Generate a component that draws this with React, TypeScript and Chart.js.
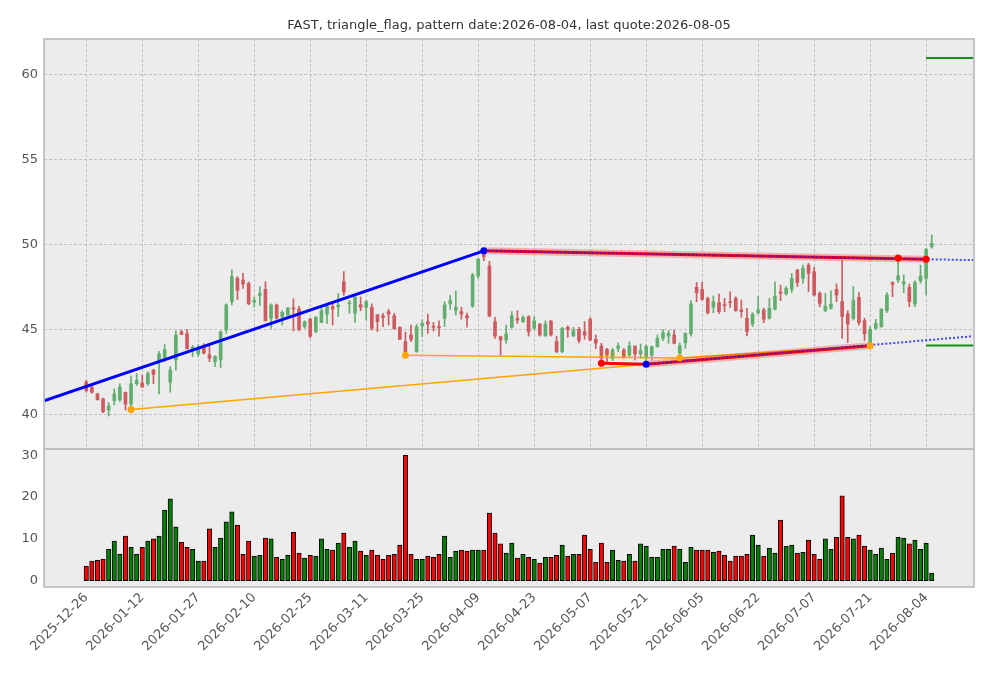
import { Chart, registerables } from "chart.js";
import { useEffect, useRef } from "react";

Chart.register(...registerables);

const chartTitle = "FAST, triangle_flag, pattern date:2026-08-04, last quote:2026-08-05";

// x axis: trading-day index, labelled every 10 sessions
const tickIdx = [0, 10, 20, 30, 40, 50, 60, 70, 80, 90, 100, 110, 120, 130, 140, 150];
const tickDates = [
  "2025-12-26", "2026-01-12", "2026-01-27", "2026-02-10", "2026-02-25", "2026-03-11",
  "2026-03-25", "2026-04-09", "2026-04-23", "2026-05-07", "2026-05-21", "2026-06-05",
  "2026-06-22", "2026-07-07", "2026-07-21", "2026-08-04",
];
const priceTicks = [40, 45, 50, 55, 60];
const volTicks = [0, 10, 20, 30];

const opens = [
  41.9, 41.6, 41.2, 40.9, 40.25, 40.8, 40.85, 41.3, 40.6, 41.8, 41.85, 41.8, 42.6, 43.1, 43.3, 41.9, 43.2, 44.85, 44.75, 43.8, 43.55, 44.05, 43.5, 43.1, 43.2,
  44.96, 46.63, 48.0, 47.9, 47.7, 46.6, 47.0, 47.35, 45.65, 46.43, 45.75, 45.85, 46.25, 46.2, 45.15, 45.6, 44.87, 45.4, 45.9, 46.33, 46.33, 47.8, 46.5, 45.95, 46.45,
  46.3, 46.3, 45.86, 45.8, 46.04, 45.8, 45.12, 44.27, 44.67, 43.69, 45.2, 45.45, 45.16, 45.16, 45.65, 46.5, 46.1, 46.04, 45.8, 46.37, 48.14, 49.47, 48.73, 45.45, 44.57,
  44.37, 45.12, 45.65, 45.45, 45.75, 45.06, 45.31, 44.6, 45.49, 44.27, 43.69, 45.12, 44.6, 45.0, 44.86, 45.59, 44.41, 44.02, 43.82, 43.29, 43.88, 43.78, 43.49, 44.02, 43.55,
  43.3, 43.49, 43.98, 44.47, 44.61, 44.67, 43.59, 44.2, 44.73, 47.47, 47.35, 46.82, 46.3, 46.57, 46.43, 46.61, 46.82, 46.14, 45.65, 45.31, 45.98, 46.14, 45.65, 46.18, 47.2,
  47.08, 47.35, 48.49, 48.0, 48.78, 48.39, 47.12, 46.1, 46.24, 47.35, 46.63, 45.9, 45.65, 46.88, 45.51, 44.08, 45.06, 45.16, 46.1, 47.75, 47.9, 47.67, 47.47, 46.49, 47.86,
  48.0, 49.86,
];
const highs = [
  42.0, 41.65, 41.25, 40.95, 40.7, 41.5, 41.8, 41.3, 42.25, 42.4, 42.3, 42.5, 42.65, 43.7, 44.1, 42.8, 44.9, 44.95, 45.0, 44.05, 44.1, 44.15, 44.1, 43.45, 44.9,
  46.5, 48.5, 48.1, 48.3, 47.8, 46.9, 47.5, 47.8, 46.5, 46.49, 46.1, 46.3, 46.8, 46.35, 45.5, 45.65, 45.75, 46.3, 46.5, 46.6, 47.1, 48.4, 46.7, 47.0, 46.9,
  46.7, 46.5, 45.86, 45.94, 46.18, 45.94, 45.16, 44.84, 45.25, 45.3, 45.55, 45.9, 45.4, 45.5, 46.63, 47.0, 47.25, 46.3, 45.95, 48.3, 49.18, 49.67, 49.0, 45.7, 44.6,
  45.25, 46.04, 46.1, 45.8, 45.8, 45.75, 45.35, 45.5, 45.51, 44.6, 45.12, 45.2, 45.12, 45.12, 45.45, 45.7, 44.67, 44.18, 43.88, 43.88, 44.2, 43.88, 44.27, 44.02, 44.14,
  44.08, 44.02, 44.67, 45.0, 44.92, 44.96, 44.2, 44.8, 46.69, 47.76, 47.76, 46.9, 46.96, 47.08, 46.82, 47.2, 46.92, 46.73, 46.24, 45.98, 46.92, 46.24, 46.82, 47.8, 47.6,
  47.51, 48.29, 48.53, 48.78, 48.88, 48.65, 47.2, 47.12, 47.27, 47.67, 49.04, 46.1, 47.51, 47.16, 45.65, 45.16, 45.59, 46.22, 47.16, 47.8, 49.2, 48.2, 47.67, 47.86, 48.78,
  49.77, 50.55,
];
const lows = [
  41.3, 41.25, 40.85, 40.1, 39.9, 40.55, 40.75, 40.25, 40.29, 41.7, 41.6, 41.7, 41.8, 41.2, 43.1, 41.3, 42.6, 44.7, 43.85, 43.4, 43.4, 43.55, 43.1, 42.8, 42.75,
  44.76, 46.43, 46.75, 47.4, 46.45, 46.3, 46.4, 45.5, 45.06, 45.6, 45.25, 45.8, 44.9, 44.9, 45.06, 44.5, 44.8, 45.4, 45.35, 45.25, 45.75, 47.0, 45.95, 45.4, 46.1,
  45.55, 44.96, 44.86, 45.16, 45.25, 45.0, 44.41, 43.47, 44.27, 43.65, 44.57, 44.76, 44.9, 44.6, 45.16, 46.18, 45.84, 45.6, 45.12, 46.3, 48.0, 49.04, 45.74, 44.47, 43.49,
  44.18, 45.06, 45.35, 45.4, 44.6, 45.0, 44.6, 44.6, 44.6, 43.63, 43.63, 44.53, 44.6, 44.2, 44.41, 44.33, 43.88, 43.0, 43.1, 43.16, 43.69, 43.29, 43.39, 43.2, 43.29,
  42.94, 43.2, 43.94, 44.33, 44.18, 44.14, 43.31, 43.88, 44.6, 46.63, 46.7, 45.9, 45.98, 45.94, 46.04, 46.29, 46.06, 45.7, 44.61, 45.16, 45.9, 45.39, 45.6, 46.14, 46.69,
  47.02, 47.16, 47.51, 47.71, 47.22, 46.96, 46.33, 46.04, 46.18, 46.63, 44.47, 44.22, 45.55, 45.25, 44.33, 44.04, 45.0, 45.12, 45.98, 46.92, 47.75, 47.16, 46.33, 46.33, 47.71,
  47.02, 49.77,
];
const closes = [
  41.4, 41.3, 40.85, 40.15, 40.5, 41.2, 41.6, 40.6, 41.8, 42.0, 41.6, 42.4, 42.35, 43.55, 43.8, 42.6, 44.65, 44.7, 43.85, 43.95, 43.9, 43.6, 43.3, 43.4, 44.85,
  46.43, 48.1, 47.3, 47.67, 46.5, 46.7, 47.1, 45.5, 46.43, 45.65, 46.0, 46.25, 46.2, 45.0, 45.45, 44.6, 45.7, 46.1, 46.35, 46.2, 46.43, 47.2, 46.55, 46.9, 46.3,
  46.63, 45.06, 45.45, 45.7, 45.9, 45.04, 44.41, 43.69, 44.41, 45.16, 45.35, 45.31, 45.12, 45.1, 46.43, 46.69, 46.3, 45.9, 45.67, 48.2, 49.12, 49.27, 45.78, 44.6, 44.37,
  44.73, 45.8, 45.55, 45.7, 44.86, 45.5, 44.67, 45.31, 44.67, 43.69, 45.06, 45.0, 44.92, 44.33, 44.67, 44.37, 44.18, 43.29, 43.49, 43.78, 44.02, 43.35, 44.02, 43.55, 43.75,
  44.0, 43.98, 44.47, 44.8, 44.76, 44.18, 44.02, 44.76, 46.49, 47.16, 46.76, 45.98, 46.63, 46.04, 46.39, 46.57, 46.1, 46.04, 44.86, 45.9, 46.14, 45.59, 46.24, 46.96, 47.12,
  47.41, 48.0, 47.75, 48.59, 48.29, 47.02, 46.53, 46.37, 46.49, 47.02, 45.75, 45.31, 46.69, 45.39, 44.73, 45.0, 45.35, 46.18, 47.02, 47.65, 48.14, 47.8, 46.63, 47.75, 48.14,
  49.71, 50.06,
];
const volumes = [
  3.5, 4.7, 4.9, 5.2, 7.5, 9.5, 6.4, 10.7, 8.0, 6.4, 8.0, 9.5, 10.0, 10.7, 16.9, 19.6, 12.9, 9.2, 8.0, 7.5, 4.7, 4.7, 12.4, 8.0, 10.2,
  14.1, 16.5, 13.3, 6.3, 9.5, 5.9, 6.1, 10.2, 10.0, 5.6, 5.1, 6.1, 11.6, 6.6, 5.4, 6.1, 5.9, 10.0, 7.5, 7.3, 9.0, 11.4, 8.0, 9.5, 7.1,
  6.1, 7.3, 6.1, 5.1, 6.1, 6.3, 8.5, 30.0, 6.3, 5.1, 5.1, 5.9, 5.6, 6.3, 10.7, 5.6, 7.1, 7.3, 7.1, 7.3, 7.3, 7.3, 16.2, 11.4, 8.8,
  6.6, 9.0, 5.4, 6.3, 5.6, 5.1, 4.2, 5.6, 5.6, 6.1, 8.5, 5.9, 6.3, 6.3, 10.9, 7.5, 4.4, 9.0, 4.4, 7.3, 4.9, 4.7, 6.3, 4.7, 8.8,
  8.3, 5.6, 5.6, 7.5, 7.5, 8.3, 7.5, 4.4, 8.0, 7.3, 7.3, 7.3, 6.8, 7.1, 6.1, 4.7, 5.9, 5.9, 6.3, 10.9, 8.5, 5.9, 7.8, 6.6, 14.5,
  8.3, 8.5, 6.6, 6.8, 9.7, 6.3, 5.1, 10.0, 7.5, 10.4, 20.3, 10.4, 10.0, 10.9, 8.3, 7.3, 6.3, 7.8, 5.1, 6.6, 10.4, 10.2, 8.8, 9.7, 7.5,
  9.0, 1.8,
];

// pattern lines as [index, price] pairs
const blueTrend = [[-7.55, 40.8], [71, 49.62]];
const upperRed = [[71, 49.62], [150, 49.12]];
const upperDotted = [[71, 49.62], [158.55, 49.07]];
const lowerRedStart = [[92, 43.0], [100, 42.94]];
const lowerRed = [[100, 42.94], [140, 44.04]];
const lowerDotted = [[100, 42.94], [158.55, 44.6]];
const orangeSupport = [[8, 40.29], [100, 42.94]];
const orangeZig = [[57, 43.47], [106, 43.31], [140, 44.04]];
const targetUp = [[150, 60.96], [158.55, 60.96]];
const targetDown = [[150, 44.05], [158.55, 44.05]];
const orangeDots = [[8, 40.29], [57, 43.47], [106, 43.31], [140, 44.04]];
const redDots = [[92, 43.0], [145, 49.19], [150, 49.12]];
const blueDots = [[71, 49.62], [100, 42.94]];

const UP = "#62ae6e";
const DOWN = "#cd5b5f";
const FONT = '"DejaVu Sans", sans-serif';

const pts = (arr: number[][]) => arr.map(([x, y]) => ({ x, y }));

const lineSet = (data: number[][], color: string, width: number, order: number, dash: number[] = []) => ({
  type: "line" as const,
  data: pts(data),
  borderColor: color,
  borderWidth: width,
  borderDash: dash,
  pointRadius: 0,
  tension: 0,
  fill: false,
  yAxisID: "y",
  order,
});

const dotSet = (data: number[][], color: string) => ({
  type: "scatter" as const,
  data: pts(data),
  backgroundColor: color,
  borderWidth: 0,
  pointRadius: 3.5,
  yAxisID: "y",
  order: 0,
});

const panels = {
  id: "panels",
  beforeDatasetsDraw(chart: any) {
    const { ctx } = chart;
    const { x, y, vol } = chart.scales;
    ctx.save();
    ctx.fillStyle = "#ececec";
    ctx.fillRect(x.left, y.top, x.right - x.left, vol.bottom - y.top);
    ctx.strokeStyle = "#b4b4b4";
    ctx.lineWidth = 0.8;
    ctx.setLineDash([3, 2]);
    ctx.beginPath();
    priceTicks.forEach((t) => {
      const py = Math.round(y.getPixelForValue(t)) + 0.5;
      ctx.moveTo(x.left, py);
      ctx.lineTo(x.right, py);
    });
    tickIdx.forEach((t) => {
      const px = Math.round(x.getPixelForValue(t)) + 0.5;
      ctx.moveTo(px, y.top);
      ctx.lineTo(px, y.bottom);
    });
    ctx.stroke();
    ctx.restore();
  },
  afterDatasetsDraw(chart: any) {
    const { ctx } = chart;
    const { x, y, vol } = chart.scales;
    ctx.save();
    ctx.strokeStyle = "#c0c0c0";
    ctx.lineWidth = 1.8;
    ctx.strokeRect(x.left, y.top, x.right - x.left, vol.bottom - y.top);
    ctx.beginPath();
    ctx.moveTo(x.left, y.bottom);
    ctx.lineTo(x.right, y.bottom);
    ctx.stroke();
    ctx.fillStyle = "#333";
    ctx.font = `13px ${FONT}`;
    ctx.textAlign = "center";
    ctx.textBaseline = "middle";
    ctx.fillText(chartTitle, (x.left + x.right) / 2, 26);
    ctx.restore();
  },
};

export default function App() {
  const canvasRef = useRef<HTMLCanvasElement>(null);
  const chartRef = useRef<Chart | null>(null);

  useEffect(() => {
    if (!canvasRef.current) return;
    if (chartRef.current) chartRef.current.destroy();

    const idx = opens.map((_, i) => i);
    const colors = idx.map((i) => (closes[i] >= opens[i] ? UP : DOWN));
    const volColors = idx.map((i) => (closes[i] >= opens[i] ? "#008000" : "#ff0000"));
    const tickFont = { family: FONT, size: 13 };

    chartRef.current = new Chart(canvasRef.current, {
      type: "bar",
      data: {
        datasets: [
          {
            type: "bar",
            data: idx.map((i) => ({ x: i, y: [lows[i], highs[i]] })),
            backgroundColor: colors,
            barThickness: 1,
            minBarLength: 1,
            grouped: false,
            yAxisID: "y",
            order: 10,
          },
          {
            type: "bar",
            data: idx.map((i) => ({ x: i, y: [opens[i], closes[i]] })),
            backgroundColor: colors,
            barThickness: 3,
            minBarLength: 1,
            grouped: false,
            yAxisID: "y",
            order: 9,
          },
          {
            type: "bar",
            data: idx.map((i) => ({ x: i, y: volumes[i] })),
            backgroundColor: volColors,
            borderColor: "#000",
            borderWidth: 1,
            borderSkipped: false,
            barThickness: 4.4,
            grouped: false,
            yAxisID: "vol",
            order: 9,
          },
          lineSet(orangeSupport, "#ffa500", 1.5, 7),
          lineSet(orangeZig, "#ffa500", 1.5, 7),
          lineSet(upperRed, "rgba(255,0,0,0.25)", 7, 6),
          lineSet(lowerRed, "rgba(255,0,0,0.25)", 7, 6),
          lineSet(upperRed, "#ff0000", 3, 5),
          lineSet(lowerRed, "#ff0000", 3, 5),
          lineSet(lowerRedStart, "#ff0000", 3, 5),
          lineSet(blueTrend, "#0000ff", 3, 4),
          lineSet(upperDotted, "rgba(30,30,255,0.8)", 2, 3, [2, 2]),
          lineSet(lowerDotted, "rgba(30,30,255,0.8)", 2, 3, [2, 2]),
          lineSet(targetUp, "#1a8c1a", 2, 3),
          lineSet(targetDown, "#1a8c1a", 2, 3),
          dotSet(orangeDots, "#ffa500"),
          dotSet(redDots, "#ff0000"),
          dotSet(blueDots, "#0000ff"),
        ] as any,
      },
      options: {
        animation: false,
        responsive: true,
        maintainAspectRatio: false,
        events: [],
        layout: { padding: { top: 39, right: 19, left: 0, bottom: 0 } },
        plugins: { legend: { display: false }, title: { display: false }, tooltip: { enabled: false } },
        scales: {
          x: {
            type: "linear",
            min: -7.55,
            max: 158.55,
            offset: false,
            grid: { display: false, drawTicks: false },
            border: { display: false },
            afterBuildTicks: (axis: any) => {
              axis.ticks = tickIdx.map((value) => ({ value }));
            },
            afterFit: (axis: any) => {
              axis.height = 91;
            },
            ticks: {
              autoSkip: false,
              minRotation: 45,
              maxRotation: 45,
              padding: 3,
              color: "#555",
              font: tickFont,
              callback: (v: any) => tickDates[tickIdx.indexOf(Number(v))] ?? "",
            },
          },
          // volume first: in a stack the later scale sits on top
          vol: {
            type: "linear",
            position: "left",
            stack: "panels",
            stackWeight: 138,
            min: -1.5,
            max: 31.5,
            grid: { display: false, drawTicks: false },
            border: { display: false },
            afterBuildTicks: (axis: any) => {
              axis.ticks = volTicks.map((value) => ({ value }));
            },
            afterFit: (axis: any) => {
              axis.width = 44;
            },
            ticks: { padding: 6, color: "#555", font: tickFont },
          },
          y: {
            type: "linear",
            position: "left",
            stack: "panels",
            stackWeight: 410,
            min: 37.96,
            max: 62.08,
            grid: { display: false, drawTicks: false },
            border: { display: false },
            afterBuildTicks: (axis: any) => {
              axis.ticks = priceTicks.map((value) => ({ value }));
            },
            afterFit: (axis: any) => {
              axis.width = 44;
            },
            ticks: { padding: 6, color: "#555", font: tickFont },
          },
        },
      } as any,
      plugins: [panels],
    });

    return () => {
      if (chartRef.current) {
        chartRef.current.destroy();
        chartRef.current = null;
      }
    };
  }, []);

  return (
    <div style={{ position: "fixed", left: 0, top: 0, width: 993, height: 678, background: "#fff" }}>
      <canvas ref={canvasRef}></canvas>
    </div>
  );
}
